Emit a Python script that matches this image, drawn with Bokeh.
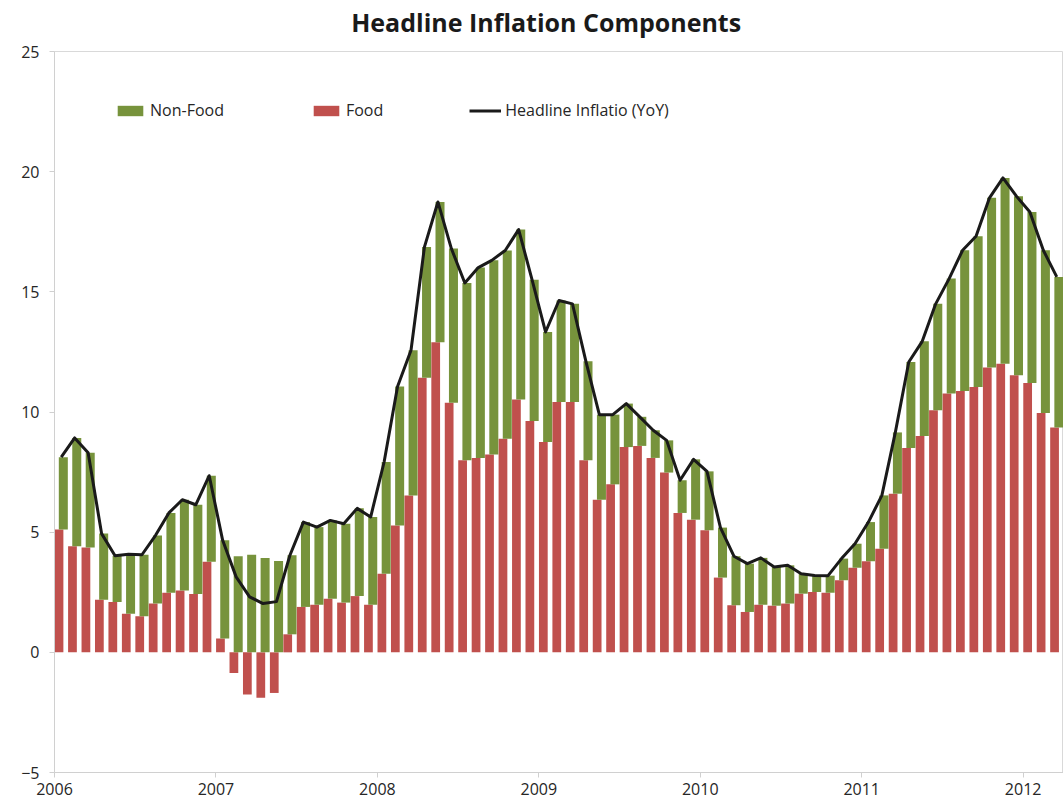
from bokeh.plotting import figure
from bokeh.layouts import column
from bokeh.models import Range1d, FixedTicker, ColumnDataSource, Legend, LegendItem
from bokeh.transform import dodge
from bokeh.core.properties import value
from bokeh.embed import file_html
from bokeh.resources import INLINE

title_text = "Headline Inflation Components"
years = ["2006", "2007", "2008", "2009", "2010", "2011", "2012"]

# Monthly values, Jan 2006 .. Mar 2012 (percent, YoY)
food = [5.11, 4.41, 4.36, 2.19, 2.09, 1.61, 1.50, 2.03, 2.48, 2.57, 2.43, 3.77,
        0.58, -0.86, -1.75, -1.89, -1.69, 0.75, 1.89, 1.98, 2.23, 2.07, 2.34, 1.98,
        3.27, 5.28, 6.53, 11.42, 12.90, 10.38, 7.99, 8.09, 8.23, 8.89, 10.52, 9.63,
        8.75, 10.42, 10.42, 7.99, 6.35, 6.99, 8.54, 8.59, 8.09, 7.48, 5.80, 5.52,
        5.08, 3.11, 1.96, 1.68, 1.98, 1.94, 2.03, 2.44, 2.51, 2.48, 3.00, 3.52,
        3.79, 4.31, 6.60, 8.50, 9.00, 10.07, 10.77, 10.87, 11.04, 11.85, 12.01, 11.53,
        11.21, 9.96, 9.35]

headline = [8.12, 8.92, 8.30, 4.94, 4.02, 4.08, 4.06, 4.86, 5.80, 6.35, 6.14, 7.35,
            4.66, 3.14, 2.31, 2.03, 2.11, 4.04, 5.42, 5.21, 5.49, 5.35, 5.99, 5.63,
            7.92, 11.06, 12.57, 16.87, 18.74, 16.80, 15.37, 16.01, 16.31, 16.72, 17.59, 15.50,
            13.33, 14.64, 14.50, 12.11, 9.89, 9.89, 10.35, 9.80, 9.24, 8.82, 7.16, 8.03,
            7.53, 5.19, 4.00, 3.69, 3.93, 3.55, 3.62, 3.27, 3.20, 3.19, 3.90, 4.52,
            5.42, 6.53, 9.15, 12.08, 12.94, 14.50, 15.55, 16.73, 17.31, 18.91, 19.74, 18.98,
            18.32, 16.73, 15.62]

months = list(range(len(food)))
nonfood = [h - f for h, f in zip(headline, food)]
green_bottom = [max(f, 0.0) for f in food]
green_top = [b + n for b, n in zip(green_bottom, nonfood)]

src = ColumnDataSource(dict(m=months, food=food, gb=green_bottom, gt=green_top, head=headline))

# --- title strip ---
t = figure(width=1063, height=41, x_range=Range1d(0, 1063), y_range=Range1d(0, 41),
           output_backend="svg", toolbar_location=None, title=None, min_border=0)
t.axis.visible = False
t.grid.visible = False
t.outline_line_color = None
t.text(x=[518], y=[20], text=[title_text], text_font=value("Open Sans"), text_font_style="bold",
       text_font_size="25px", text_align="center", text_baseline="middle", text_color="#1a1a1a")

# --- main chart ---
p = figure(width=1063, height=761, x_range=Range1d(0, len(food)), y_range=Range1d(-5, 25),
           output_backend="svg", toolbar_location=None, title=None,
           min_border_left=54, min_border_right=0, min_border_top=10, min_border_bottom=30)

r_food = p.vbar(x=dodge("m", 0.335, range=p.x_range), width=0.65, bottom=0, top="food", source=src,
                fill_color="#C0504D", line_color=None)
r_non = p.vbar(x=dodge("m", 0.655, range=p.x_range), width=0.67, bottom="gb", top="gt", source=src,
               fill_color="#77933C", line_color=None)
r_line = p.line(x=dodge("m", 0.5, range=p.x_range), y="head", source=src,
                line_color="#1a1a1a", line_width=3, line_join="round")

tick_pos = [12 * k for k in range(len(years))]
p.xaxis.ticker = FixedTicker(ticks=tick_pos)
p.xaxis.major_label_overrides = {t_: y for t_, y in zip(tick_pos, years)}
p.yaxis.ticker = FixedTicker(ticks=[-5, 0, 5, 10, 15, 20, 25])

for ax in (p.xaxis[0], p.yaxis[0]):
    ax.axis_line_color = "#d0d0d0"
    ax.major_tick_line_color = "#d0d0d0"
    ax.minor_tick_line_color = None
    ax.major_tick_out = 5
    ax.major_tick_in = 0
    ax.major_label_text_font = "Open Sans"
    ax.major_label_text_font_size = "16px"
    ax.major_label_text_color = "#262626"
p.xaxis.major_label_standoff = 5
p.yaxis.major_label_standoff = 10

p.grid.visible = False
p.outline_line_color = "#d9d9d9"

legend = Legend(items=[LegendItem(label="Non-Food", renderers=[r_non]),
                       LegendItem(label="Food", renderers=[r_food]),
                       LegendItem(label="Headline Inflatio (YoY)", renderers=[r_line])],
                orientation="horizontal", location=(60, 651),
                border_line_color=None, background_fill_alpha=0,
                padding=0, margin=0, spacing=86, glyph_width=32, glyph_height=13,
                label_standoff=4, label_height=20,
                label_text_font="Open Sans", label_text_font_size="16px",
                label_text_color="#262626")
p.add_layout(legend)

layout = column(t, p, spacing=0)
open("out.html", "w").write(file_html(layout, INLINE))
